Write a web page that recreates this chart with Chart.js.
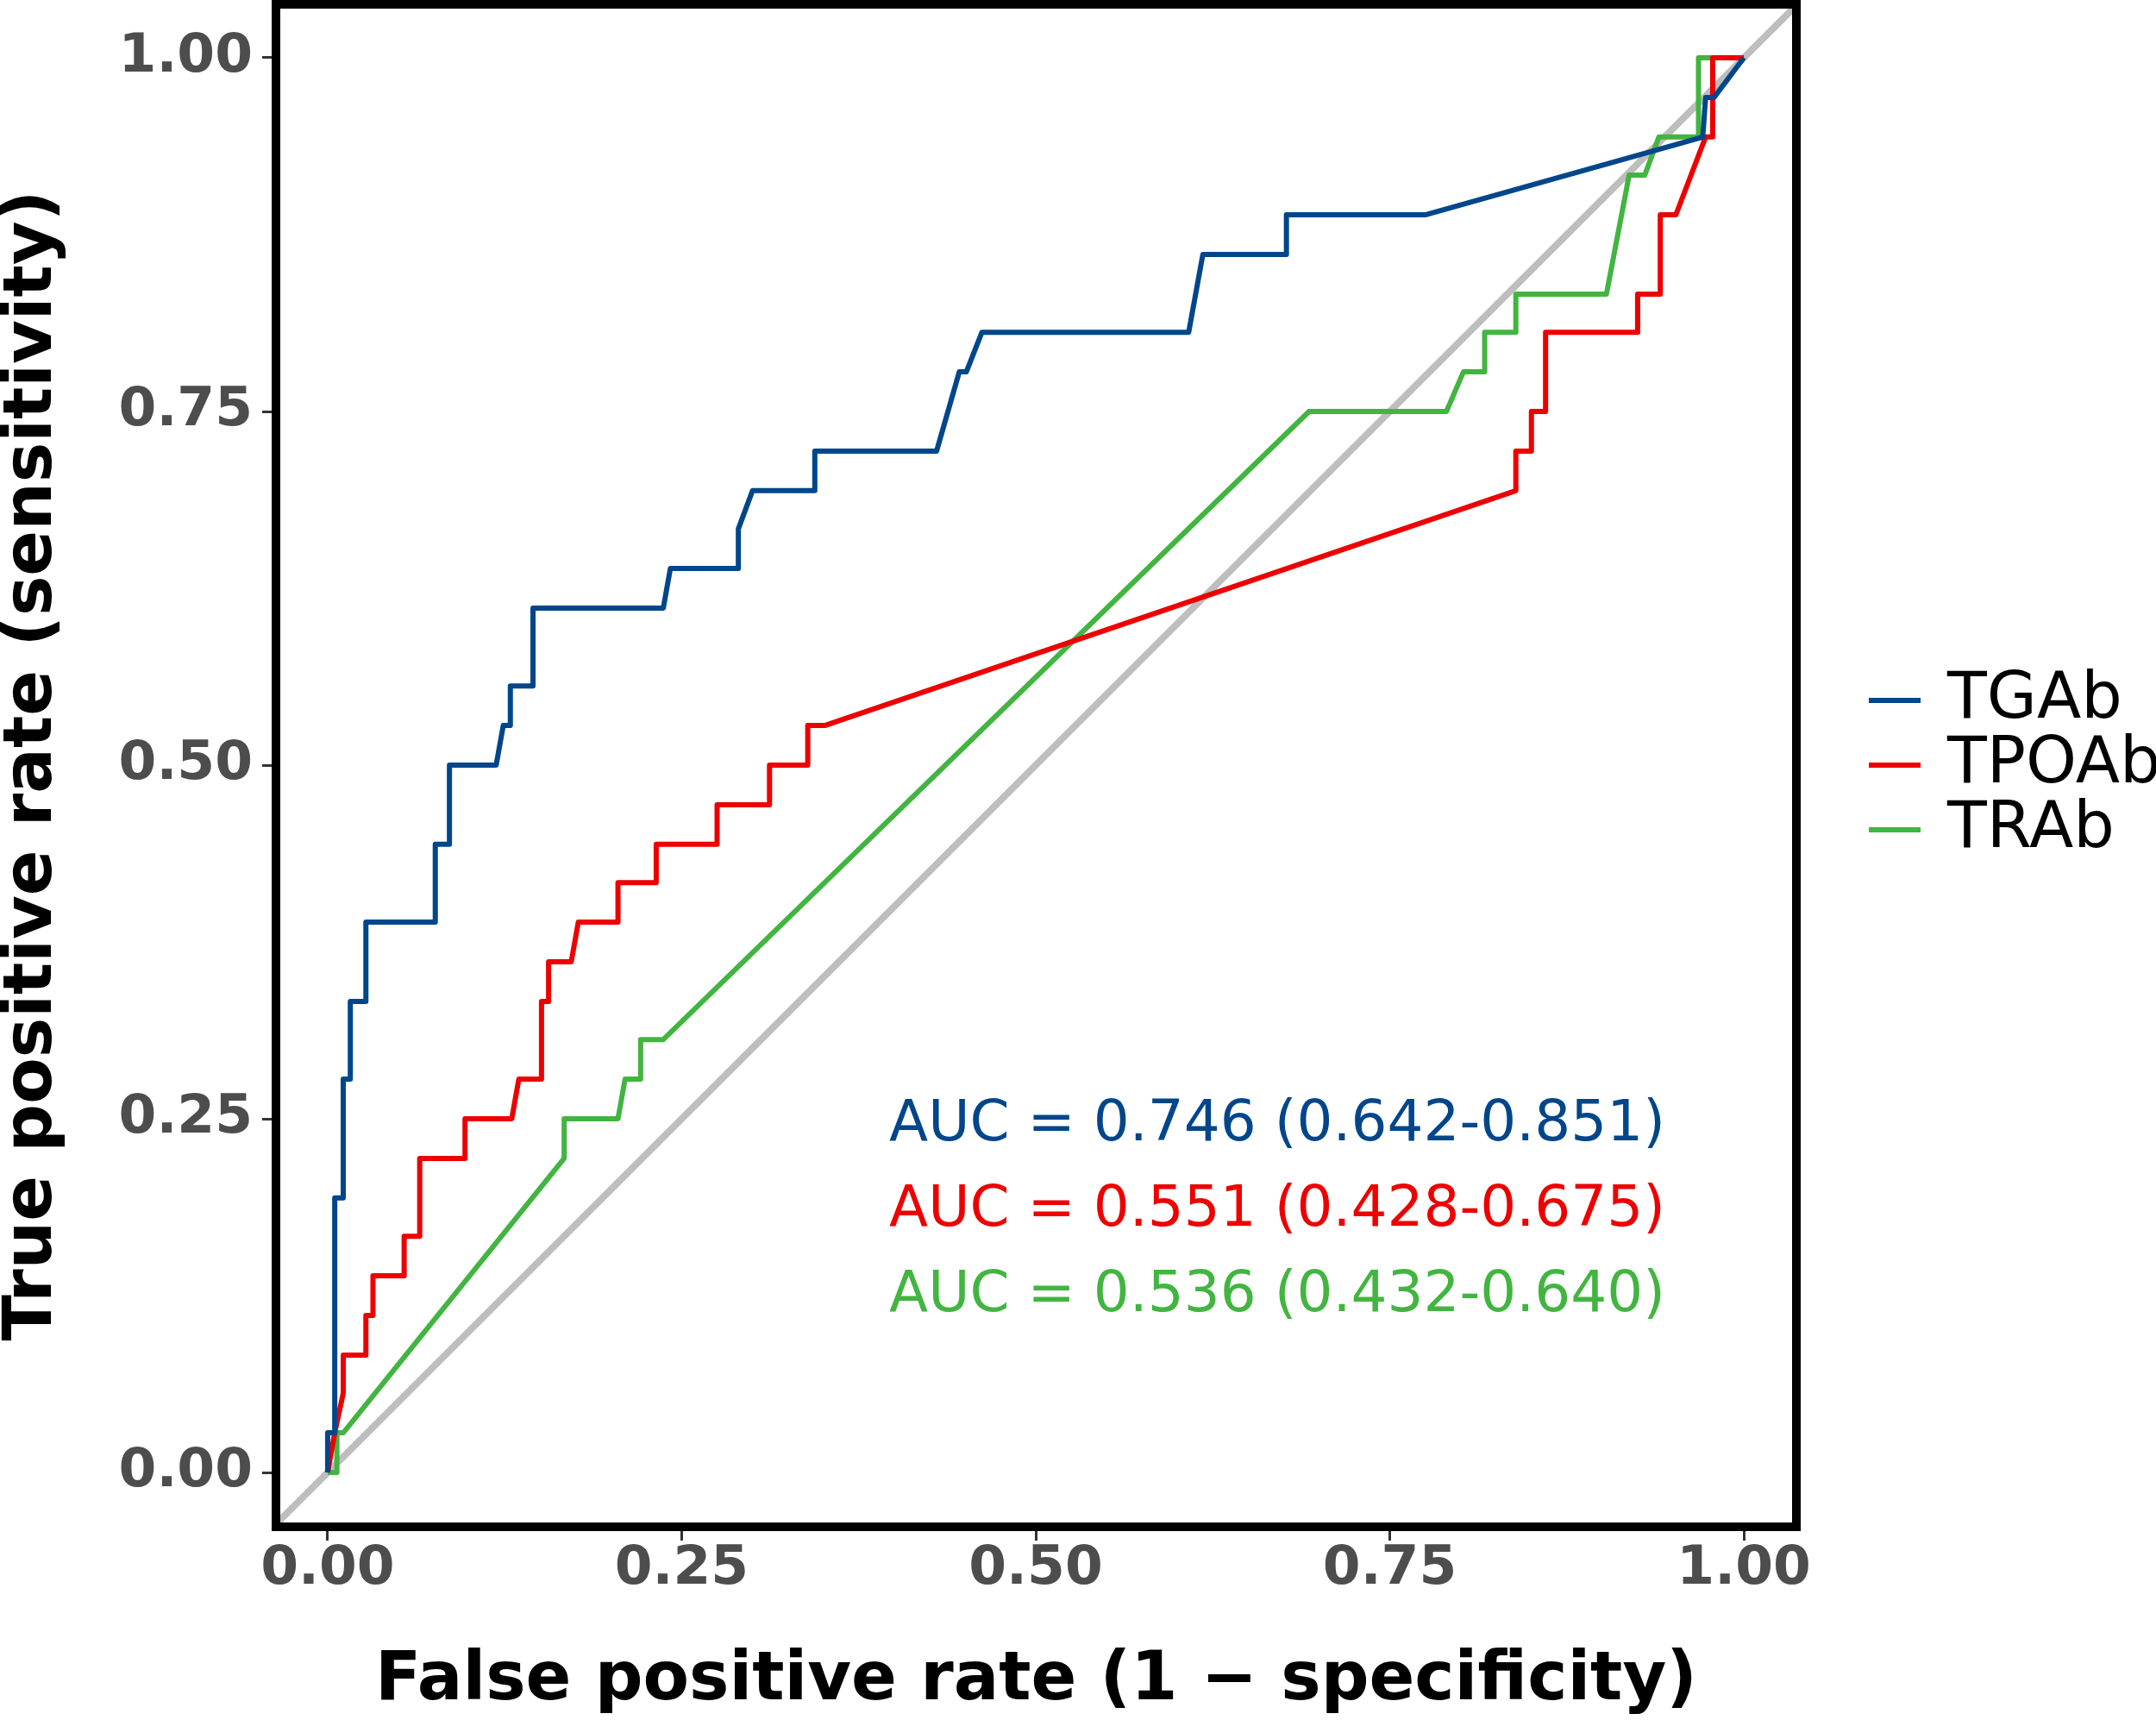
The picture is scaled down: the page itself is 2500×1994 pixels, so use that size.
<!DOCTYPE html>
<html>
<head>
<meta charset="utf-8">
<script src="https://cdn.jsdelivr.net/npm/chart.js@4.4.1/dist/chart.umd.min.js"></script>
<style>
  html, body { margin: 0; padding: 0; background: #fff; }
  #roc { display: block; }
</style>
</head>
<body>
<canvas id="roc" width="2500" height="1994" style="width:2500px;height:1994px"></canvas>
<script>
// ROC curves for three antibodies.

const SERIES_NAMES  = ['TGAb', 'TPOAb', 'TRAb'];
const SERIES_COLORS = ['#00468B', '#ED0000', '#42B540'];
const AUC_LABELS = [
  'AUC = 0.746 (0.642-0.851)',
  'AUC = 0.551 (0.428-0.675)',
  'AUC = 0.536 (0.432-0.640)',
];

const AXIS_TICKS = [0, 0.25, 0.5, 0.75, 1];

// curve vertices: false positive rate / true positive rate
const TGAB_FPR = [0, 0, 0.005, 0.005, 0.011, 0.011, 0.016, 0.016, 0.027, 0.027,
                  0.076, 0.076, 0.086, 0.086, 0.119, 0.124, 0.129, 0.129, 0.145, 0.145,
                  0.237, 0.242, 0.290, 0.290, 0.300, 0.344, 0.344, 0.430, 0.446, 0.451,
                  0.462, 0.608, 0.618, 0.677, 0.677, 0.775, 0.971, 0.973, 0.979, 1.000];
const TGAB_TPR = [0, 0.028, 0.028, 0.194, 0.194, 0.278, 0.278, 0.333, 0.333, 0.389,
                  0.389, 0.444, 0.444, 0.500, 0.500, 0.528, 0.528, 0.556, 0.556, 0.611,
                  0.611, 0.639, 0.639, 0.667, 0.694, 0.694, 0.722, 0.722, 0.778, 0.778,
                  0.806, 0.806, 0.861, 0.861, 0.889, 0.889, 0.944, 0.972, 0.972, 1.000];

const TPOAB_FPR = [0, 0.005, 0.011, 0.011, 0.027, 0.027, 0.032, 0.032, 0.054, 0.054,
                   0.065, 0.065, 0.097, 0.097, 0.130, 0.135, 0.151, 0.151, 0.156, 0.156,
                   0.172, 0.177, 0.205, 0.205, 0.232, 0.232, 0.275, 0.275, 0.312, 0.312,
                   0.339, 0.339, 0.351, 0.839, 0.839, 0.850, 0.850, 0.860, 0.860, 0.925,
                   0.925, 0.941, 0.941, 0.952, 0.973, 0.978, 0.978, 1.000];
const TPOAB_TPR = [0, 0.028, 0.056, 0.083, 0.083, 0.111, 0.111, 0.139, 0.139, 0.167,
                   0.167, 0.222, 0.222, 0.250, 0.250, 0.278, 0.278, 0.333, 0.333, 0.361,
                   0.361, 0.389, 0.389, 0.417, 0.417, 0.444, 0.444, 0.472, 0.472, 0.500,
                   0.500, 0.528, 0.528, 0.694, 0.722, 0.722, 0.750, 0.750, 0.806, 0.806,
                   0.833, 0.833, 0.889, 0.889, 0.944, 0.944, 1.000, 1.000];

const TRAB_FPR = [0, 0.0065, 0.0065, 0.011, 0.167, 0.167, 0.205, 0.210, 0.221, 0.221,
                  0.237, 0.693, 0.790, 0.802, 0.817, 0.817, 0.839, 0.839, 0.903, 0.919,
                  0.930, 0.940, 0.968, 0.968, 1.000];
const TRAB_TPR = [0, 0, 0.028, 0.028, 0.222, 0.250, 0.250, 0.278, 0.278, 0.306,
                  0.306, 0.750, 0.750, 0.778, 0.778, 0.806, 0.806, 0.833, 0.833, 0.917,
                  0.917, 0.944, 0.944, 1.000, 1.000];

// chance line y = x, long enough to run corner to corner
const DIAG_ENDS = [-0.1, 1.1];

const toPoints = (xs, ys) => xs.map((x, i) => ({ x, y: ys[i] }));

const CURVES = [
  toPoints(TGAB_FPR, TGAB_TPR),
  toPoints(TPOAB_FPR, TPOAB_TPR),
  toPoints(TRAB_FPR, TRAB_TPR),
];

const FONT = 'DejaVu Sans';

// panel border, AUC text and the legend (ggplot-style, outside the panel)
const rocDecor = {
  id: 'rocDecor',
  afterDatasetsDraw(chart, args, opts) {
    const { ctx, chartArea: a, scales: { x, y } } = chart;
    ctx.save();
    ctx.strokeStyle = '#000';
    ctx.lineWidth = opts.borderWidth;
    ctx.strokeRect(a.left, a.top, a.right - a.left, a.bottom - a.top);

    ctx.font = `${opts.aucSize}px "${FONT}"`;
    ctx.textAlign = 'left';
    ctx.textBaseline = 'alphabetic';
    AUC_LABELS.forEach((txt, i) => {
      ctx.fillStyle = SERIES_COLORS[i];
      ctx.fillText(txt, x.getPixelForValue(opts.aucX), y.getPixelForValue(opts.aucY[i]));
    });

    ctx.font = `${opts.legendSize}px "${FONT}"`;
    ctx.textBaseline = 'middle';
    SERIES_NAMES.forEach((name, i) => {
      const ly = opts.legendTop + i * opts.legendGap;
      ctx.strokeStyle = SERIES_COLORS[i];
      ctx.lineWidth = 6;
      ctx.beginPath();
      ctx.moveTo(opts.legendX, ly);
      ctx.lineTo(opts.legendX + opts.keyWidth, ly);
      ctx.stroke();
      ctx.fillStyle = '#000';
      ctx.fillText(name, opts.legendX + opts.keyWidth + 31, ly + 1);
    });
    ctx.restore();
  }
};

const axisCommon = (fitFn) => ({
  type: 'linear',
  afterBuildTicks: s => { s.ticks = AXIS_TICKS.map(v => ({ value: v })); },
  afterFit: fitFn,
  grid: { display: true, drawOnChartArea: false, drawTicks: true, tickLength: 16, tickWidth: 3, tickColor: '#333333' },
  border: { display: false },
  ticks: {
    color: '#4D4D4D',
    font: { family: FONT, weight: 'bold', size: 63, lineHeight: 1 },
    callback: v => Number(v).toFixed(2),
  },
});

// fixed box sizes, and no extra room for half-labels at the ends
const xAxis = axisCommon(s => { s.height = 224; s.paddingLeft = 0; s.paddingRight = 0; });
xAxis.min = -0.0365; xAxis.max = 1.0371;
xAxis.ticks.padding = 2;
xAxis.ticks.maxRotation = 0;
xAxis.title = { display: true, text: 'False positive rate (1 \u2212 specificity)', color: '#000',
  font: { family: FONT, weight: 'bold', size: 78, lineHeight: 1 }, padding: { top: 0, bottom: 5 } };

const yAxis = axisCommon(s => { s.width = 320; s.paddingTop = 0; s.paddingBottom = 0; });
yAxis.min = -0.0384; yAxis.max = 1.0378;
yAxis.ticks.padding = 11;
yAxis.title = { display: true, text: 'True positive rate (sensitivity)', color: '#000',
  font: { family: FONT, weight: 'bold', size: 78, lineHeight: 1 }, padding: { top: 0, bottom: 0 } };

new Chart(document.getElementById('roc').getContext('2d'), {
  type: 'line',
  data: {
    datasets: [
      ...CURVES.map((pts, i) => ({
        label: SERIES_NAMES[i], data: pts, borderColor: SERIES_COLORS[i],
        borderWidth: 6, pointRadius: 0, tension: 0, fill: false,
        borderJoinStyle: 'round', order: i + 1,
      })),
      { label: 'ref', data: DIAG_ENDS.map(v => ({ x: v, y: v })), borderColor: '#BEBEBE',
        borderWidth: 8, pointRadius: 0, fill: false, order: 10 },
    ],
  },
  options: {
    responsive: false, animation: false, devicePixelRatio: 1,
    layout: { padding: { left: 0, top: 5, right: 417, bottom: 0 } },
    plugins: {
      legend: { display: false }, tooltip: { enabled: false },
      rocDecor: {
        borderWidth: 10,
        aucSize: 66, aucX: 0.3965, aucY: [0.2348, 0.1744, 0.1140],
        legendSize: 75, legendX: 2167, keyWidth: 60, legendTop: 812, legendGap: 75,
      },
    },
    scales: { x: xAxis, y: yAxis },
  },
  plugins: [rocDecor],
});
</script>
</body>
</html>
